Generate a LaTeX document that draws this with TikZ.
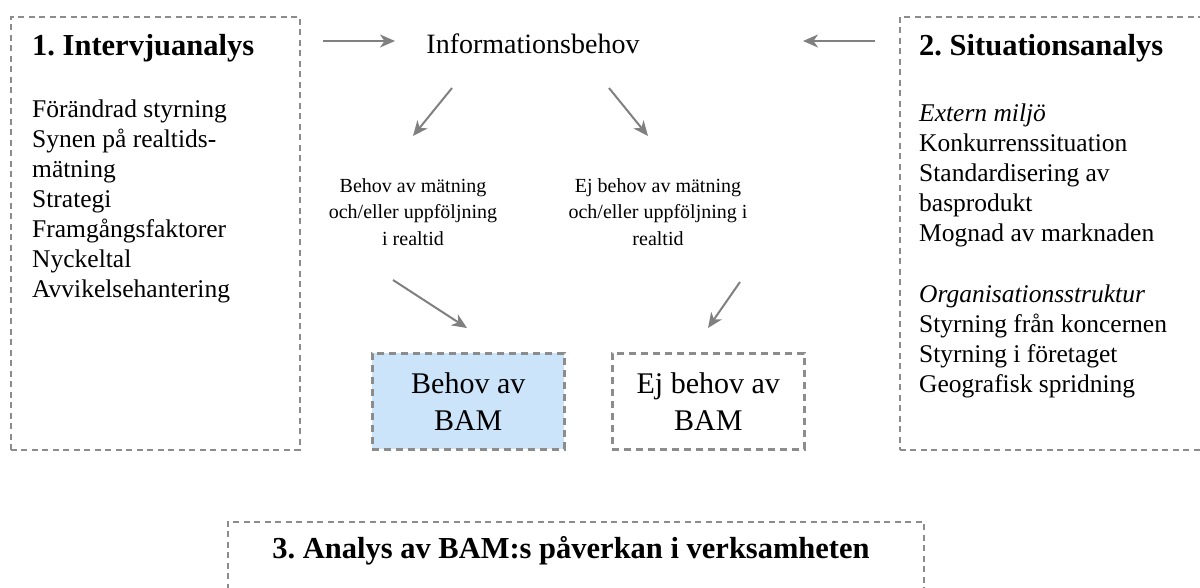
\documentclass[tikz,border=0pt]{standalone}
\usepackage{fontspec}
\setmainfont{Liberation Serif}
\usetikzlibrary{arrows.meta}
\frenchspacing

\definecolor{edgegray}{RGB}{140,140,140}
\definecolor{arrowgray}{RGB}{128,128,128}
\definecolor{bamblue}{RGB}{204,228,250}

\tikzset{
  bigbox/.style={draw=edgegray, line width=1.5pt, dash pattern=on 6pt off 4.5pt,
    inner sep=0pt, anchor=north west},
  smallbox/.style={draw=edgegray, line width=2.5pt, dash pattern=on 7pt off 5pt,
    inner sep=0pt, anchor=north west, minimum width=192pt, minimum height=96pt,
    align=center, font=\fontsize{30}{37}\selectfont},
  flow/.style={draw=arrowgray, line width=2pt,
    -{Stealth[length=15pt,width=13pt,inset=4.5pt]}},
  heading/.style={font=\bfseries\fontsize{30.5}{36}\selectfont, anchor=base west, inner sep=0pt},
  bodyline/.style={font=\fontsize{25.5}{30}\selectfont, anchor=base west, inner sep=0pt},
  midline/.style={font=\fontsize{20}{26}\selectfont, anchor=base, inner sep=0pt},
}

\begin{document}
\begin{tikzpicture}[x=1pt,y=-1pt]
  \useasboundingbox (0,0) rectangle (1200,587);

  % frames
  \node[bigbox, minimum width=289pt, minimum height=433pt] (intervju) at (10,16) {};
  \node[bigbox, minimum width=340pt, minimum height=433pt] (situation) at (899,16) {};
  \node[bigbox, minimum width=696pt, minimum height=100pt] (paverkan) at (227,521) {};

  % 1. Intervjuanalys
  \node[heading] (h1) at (32,55) {1. Intervjuanalys};
  \foreach \txt [count=\i from 0] in {Förändrad styrning, Synen på realtids-, mätning,
      Strategi, Framgångsfaktorer, Nyckeltal, Avvikelsehantering}
    \node[bodyline] (iv\i) at (32,117+30*\i) {\txt};

  % 2. Situationsanalys
  \node[heading] (h2) at (919,55) {2. Situationsanalys};
  \node[bodyline, font=\itshape\fontsize{25.5}{30}\selectfont] (ext) at (919,121) {Extern miljö};
  \foreach \txt [count=\i from 1] in {Konkurrenssituation, Standardisering av,
      basprodukt, Mognad av marknaden}
    \node[bodyline] (ex\i) at (919,121+30*\i) {\txt};
  \node[bodyline, font=\itshape\fontsize{25.5}{30}\selectfont] (org) at (919,302) {Organisationsstruktur};
  \foreach \txt [count=\i from 1] in {Styrning från koncernen, Styrning i företaget,
      Geografisk spridning}
    \node[bodyline] (or\i) at (919,302+30*\i) {\txt};

  % centre column
  \node[anchor=base, inner sep=0pt, font=\fontsize{28}{34}\selectfont] (info) at (533,53) {Informationsbehov};

  \node[midline] (ja1) at (413,192) {Behov av mätning};
  \node[midline] (ja2) at (413,218.5) {och/eller uppföljning};
  \node[midline] (ja3) at (413,245) {i realtid};

  \node[midline] (nej1) at (658,192) {Ej behov av mätning};
  \node[midline] (nej2) at (658,218.5) {och/eller uppföljning i};
  \node[midline] (nej3) at (658,245) {realtid};

  \node[smallbox, fill=bamblue] (bam) at (371,352) {Behov av\\BAM};
  \node[smallbox] (ejbam) at (611,352) {Ej behov av\\BAM};

  % 3. Analys av BAM:s påverkan
  \node[heading, anchor=base] (h3) at (571,558) {3. Analys av BAM:s påverkan i verksamheten};

  % arrow end points
  \coordinate (ivout) at (323,41);
  \coordinate (infoL) at (395,41);
  \coordinate (sitout) at (875,41);
  \coordinate (infoR) at (803,41);
  \coordinate (infoDL) at (452,88);
  \coordinate (jaIn) at (413,136);
  \coordinate (infoDR) at (609,88);
  \coordinate (nejIn) at (648,136);
  \coordinate (jaOut) at (393,280);
  \coordinate (bamIn) at (467,328);
  \coordinate (nejOut) at (740,282);
  \coordinate (ejbamIn) at (708,328);

  \draw[flow] (ivout) -- (infoL);
  \draw[flow] (sitout) -- (infoR);
  \draw[flow] (infoDL) -- (jaIn);
  \draw[flow] (infoDR) -- (nejIn);
  \draw[flow] (jaOut) -- (bamIn);
  \draw[flow] (nejOut) -- (ejbamIn);
\end{tikzpicture}
\end{document}
